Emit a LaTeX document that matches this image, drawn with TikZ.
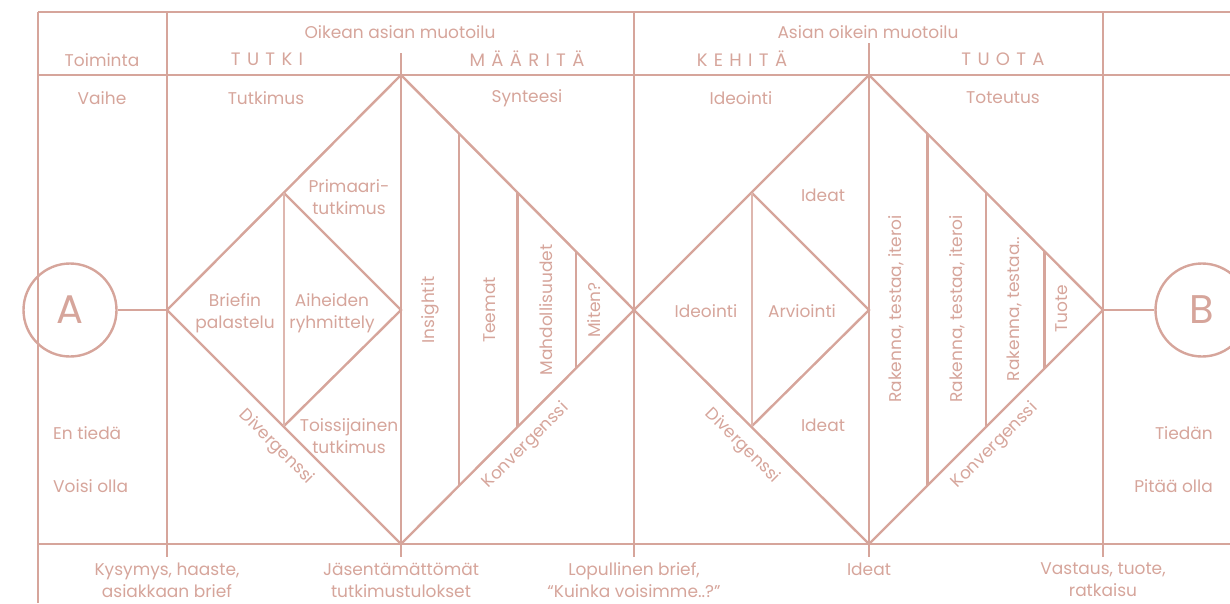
\documentclass[tikz,border=0pt]{standalone}
\usepackage{fontspec}
\setmainfont{Poppins}
\newfontfamily\spaced{Poppins}[LetterSpace=35]
\usetikzlibrary{positioning,calc}
\definecolor{rose}{RGB}{214,165,155}

\begin{document}
\begin{tikzpicture}[
  x=1pt, y=-1pt,
  font=\fontsize{17}{22}\selectfont, text=rose,
  ln/.style={draw=rose, line width=2.4pt},
  fine/.style={draw=rose!80, line width=1.1pt},
  txt/.style={align=center, inner sep=0pt},
  phase/.style={inner sep=0pt, font=\fontsize{18}{20}\selectfont\spaced},
  up/.style={rotate=90, inner sep=0pt},
  circ/.style={circle, draw=rose, line width=2.4pt, minimum size=93pt,
               inner sep=0pt, font=\fontsize{40}{40}\selectfont}
]
\useasboundingbox (0,0) rectangle (1230,603);
\clip (0,0) rectangle (1230,603);

% --- Taulukko ---
\draw[ln] (38,12) -- (1230,12);
\draw[ln] (38,75) -- (1230,75);
\draw[ln] (38,544) -- (1230,544);
\draw[ln] (38,12) -- (38,603);
\foreach \x in {167,634,1103}
  \draw[ln] (\x,12) -- (\x,557);
\draw[ln] (401,53) -- (401,557);
\draw[ln] (869,43) -- (869,557);

% --- Timantit ---
\coordinate (d1l) at (167,310);
\coordinate (d1t) at (401,75);
\coordinate (d1b) at (401,544);
\coordinate (d1r) at (634,310);
\coordinate (c1)  at (401,310);
\coordinate (s1t) at (284,193);
\coordinate (s1b) at (284,426);
\coordinate (d2t) at (869,75);
\coordinate (d2b) at (869,544);
\coordinate (d2r) at (1103,310);
\coordinate (c2)  at (869,310);
\coordinate (s2t) at (752,193);
\coordinate (s2b) at (752,426);

\draw[ln] (d1l) -- (d1t) -- (d1r) -- (d1b) -- cycle;
\draw[ln] (s1t) -- (c1) -- (s1b);
\draw[fine] (s1t) -- (s1b);
\foreach \t in {0.25,0.5,0.75}
  \draw[ln] ($(d1t)!\t!(d1r)$) -- ($(d1b)!\t!(d1r)$);

\draw[ln] (d1r) -- (d2t) -- (d2r) -- (d2b) -- cycle;
\draw[ln] (s2t) -- (c2) -- (s2b);
\draw[fine] (s2t) -- (s2b);
\foreach \t in {0.25,0.5,0.75}
  \draw[ln] ($(d2t)!\t!(d2r)$) -- ($(d2b)!\t!(d2r)$);

% --- A ja B ---
\node[circ] (A) at (70,310) {A};
\node[circ] (B) at (1202,310) {B};
\draw[ln] (A) -- (d1l);
\draw[ln] (d2r) -- (B);

% --- Otsikot ---
\node[txt] (oikea)  at (400,32) {Oikean asian muotoilu};
\node[txt] (oikein) at (868,32) {Asian oikein muotoilu};
\node[txt] (toim)   at (102,60) {Toiminta};
\node[phase] (tutki)  at (267,59) {TUTKI};
\node[phase] (maar)   at (527,59) {MÄÄRITÄ};
\node[phase] (kehita) at (742,59) {KEHITÄ};
\node[phase] (tuota)  at (1003,59) {TUOTA};
\node[txt] (vaihe)  at (102,98) {Vaihe};
\node[txt] (tutkim) at (266,98) {Tutkimus};
\node[txt] (synt)   at (527,98) {Synteesi};
\node[txt] (ideo)   at (741,98) {Ideointi};
\node[txt] (tote)   at (1003,98) {Toteutus};

% --- Tutki ja määritä ---
\node[txt] (prim)   at (349,197) {Primaari-\\tutkimus};
\node[txt] (brief)  at (235,313) {Briefin\\palastelu};
\node[txt] (aih)    at (332,313) {Aiheiden\\ryhmittely};
\node[txt] (toiss)  at (349,436) {Toissijainen\\tutkimus};
\node[txt, rotate=-45] (div1) at (276,447) {Divergenssi};
\node[up] (ins)  at (430,310) {Insightit};
\node[up] (teem) at (490,310) {Teemat};
\node[up] (mahd) at (546,310) {Mahdollisuudet};
\node[up] (mit)  at (594,310) {Miten?};
\node[txt, rotate=45] (konv1) at (526,446) {Konvergenssi};

% --- Kehitä ja tuota ---
\node[txt] (ideat1) at (823,195) {Ideat};
\node[txt] (ideoi)  at (706,311) {Ideointi};
\node[txt] (arv)    at (802,311) {Arviointi};
\node[txt] (ideat2) at (823,425) {Ideat};
\node[txt, rotate=-45] (div2) at (742,446) {Divergenssi};
\node[up] (rak1) at (896,309) {Rakenna, testaa, iteroi};
\node[up] (rak2) at (957,309) {Rakenna, testaa, iteroi};
\node[up] (rak3) at (1014,309) {Rakenna, testaa..};
\node[up] (tuo)  at (1062,309) {Tuote};
\node[txt, rotate=45] (konv2) at (995,446) {Konvergenssi};

% --- Tila ---
\node[txt, anchor=west] (entied) at (53,433) {En tiedä};
\node[txt, anchor=west] (voisi)  at (53,486) {Voisi olla};
\node[txt, anchor=east] (tiedan) at (1213,433) {Tiedän};
\node[txt, anchor=east] (pitaa)  at (1213,486) {Pitää olla};

% --- Tulokset ---
\node[txt] (kys)  at (167,580) {Kysymys, haaste,\\asiakkaan brief};
\node[txt] (jas)  at (401,580) {Jäsentämättömät\\tutkimustulokset};
\node[txt] (lop)  at (634,580) {Lopullinen brief,\\“Kuinka voisimme..?”};
\node[txt] (ideb) at (869,569) {Ideat};
\node[txt] (vast) at (1103,580) {Vastaus, tuote,\\ratkaisu};

\end{tikzpicture}
\end{document}
